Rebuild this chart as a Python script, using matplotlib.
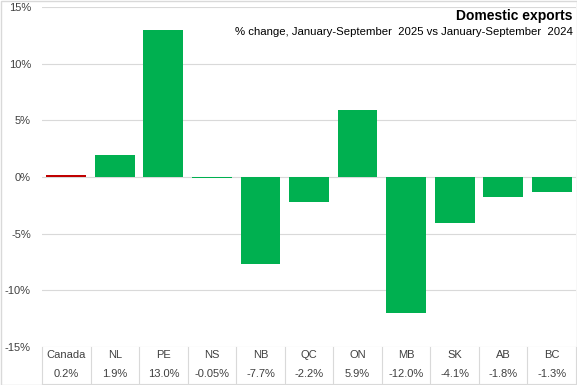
import matplotlib.pyplot as plt
import matplotlib.transforms as mtransforms
import numpy as np

plt.rcParams['font.family'] = ['Liberation Sans', 'DejaVu Sans']

# data
regions = ['Canada', 'NL', 'PE', 'NS', 'NB', 'QC', 'ON', 'MB', 'SK', 'AB', 'BC']
change = [0.2, 1.9, 13.0, -0.05, -7.7, -2.2, 5.9, -12.0, -4.1, -1.8, -1.3]
labels = ['0.2%', '1.9%', '13.0%', '-0.05%', '-7.7%', '-2.2%', '5.9%', '-12.0%', '-4.1%', '-1.8%', '-1.3%']
yticks = [-15, -10, -5, 0, 5, 10, 15]

W, H = 577, 385
fig = plt.figure(figsize=(W / 100, H / 100), dpi=100)
ax = fig.add_axes([42 / W, 1 - 347 / H, (576 - 42) / W, (347 - 7) / H])

x = np.arange(len(regions))
colors = ['#C00000'] + ['#00B050'] * (len(regions) - 1)
ax.bar(x, change, width=0.82, color=colors, zorder=3)

ax.set_xlim(-0.5, len(regions) - 0.5)
ax.set_ylim(-15, 15)
ax.set_yticks(yticks)
ax.set_yticklabels([f'{v}%' for v in yticks], fontsize=8, color='#404040')
ax.tick_params(axis='y', length=0, pad=8)
ax.set_xticks([])
ax.grid(axis='y', color='#D9D9D9', linewidth=0.8, zorder=0)
for s in ax.spines.values():
    s.set_visible(False)

# table under the plot
trans = mtransforms.blended_transform_factory(ax.transData, fig.transFigure)
y_top = 1 - 347 / H
y_bot = 1 - 384 / H
for i in range(len(regions) + 1):
    ax.plot([i - 0.5, i - 0.5], [y_top, y_bot], transform=trans, color='#D9D9D9',
            linewidth=0.8, clip_on=False)
ax.plot([-0.5, len(regions) - 0.5], [y_bot, y_bot], transform=trans, color='#D9D9D9',
        linewidth=0.8, clip_on=False)
for i, (r, l) in enumerate(zip(regions, labels)):
    ax.text(i, 1 - 355 / H, r, transform=trans, ha='center', va='center', fontsize=8, color='#404040')
    ax.text(i, 1 - 374 / H, l, transform=trans, ha='center', va='center', fontsize=8, color='#404040')

fig.text(573 / W, 1 - 16 / H, 'Domestic exports', ha='right', va='center',
         fontsize=10, fontweight='bold', color='black')
fig.text(573 / W, 1 - 32 / H, '% change, January-September  2025 vs January-September  2024',
         ha='right', va='center', fontsize=8.2, color='black')

# light frame around the whole figure
fig.patches.append(plt.Rectangle((0.5 / W, 0.5 / H), 1 - 1 / W, 1 - 1 / H, transform=fig.transFigure,
                                 fill=False, edgecolor='#D9D9D9', linewidth=1))

fig.savefig('out.png', dpi=100)
